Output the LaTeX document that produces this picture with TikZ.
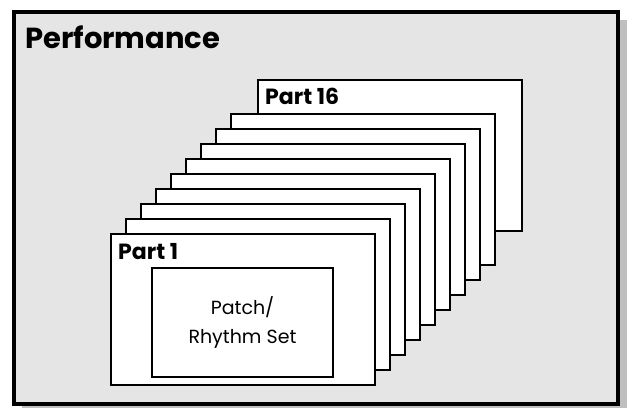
\documentclass[tikz,border=0pt]{standalone}
\usepackage{fontspec}
\setmainfont{Poppins}
\usepackage{tikz}

\tikzset{
  card/.style={draw, fill=white, line width=1.5pt, minimum width=264pt,
    minimum height=151pt, anchor=north west, inner sep=0pt, outer sep=0pt},
  partcard/.style={card, line width=2.2pt},
  partlabel/.style={anchor=base west, inner sep=0pt, font=\bfseries\fontsize{22}{24}\selectfont},
}

\begin{document}
\begin{tikzpicture}[x=1pt, y=-1pt]
            \useasboundingbox (0,0) rectangle (627,408);

            % Frame
            \fill[black!25] (22,20) rectangle (627,408);
            \draw[fill=black!10, line width=4pt] (14,12) rectangle (618,404);
            \node[anchor=base west, inner sep=0pt, font=\bfseries\fontsize{29}{32}\selectfont] (perf) at (25,48) {Performance};

            % Parts
            \node[partcard] (part16) at (258,80) {};
            \node[partlabel] at (265,104) {Part 16};
            \foreach \i in {8,...,1}
              \node[card] (card\i) at (111+15*\i, 234-15*\i) {};
            \node[partcard] (part1) at (111,234) {};
            \node[partlabel] at (118,259) {Part 1};

            % Patch
            \node[draw, fill=white, line width=1.2pt, minimum width=181pt, minimum height=109pt,
              align=center, font=\fontsize{19}{29}\selectfont] (patch) at (242.5,322.5) {Patch/\\Rhythm Set};
        \end{tikzpicture}
\end{document}
